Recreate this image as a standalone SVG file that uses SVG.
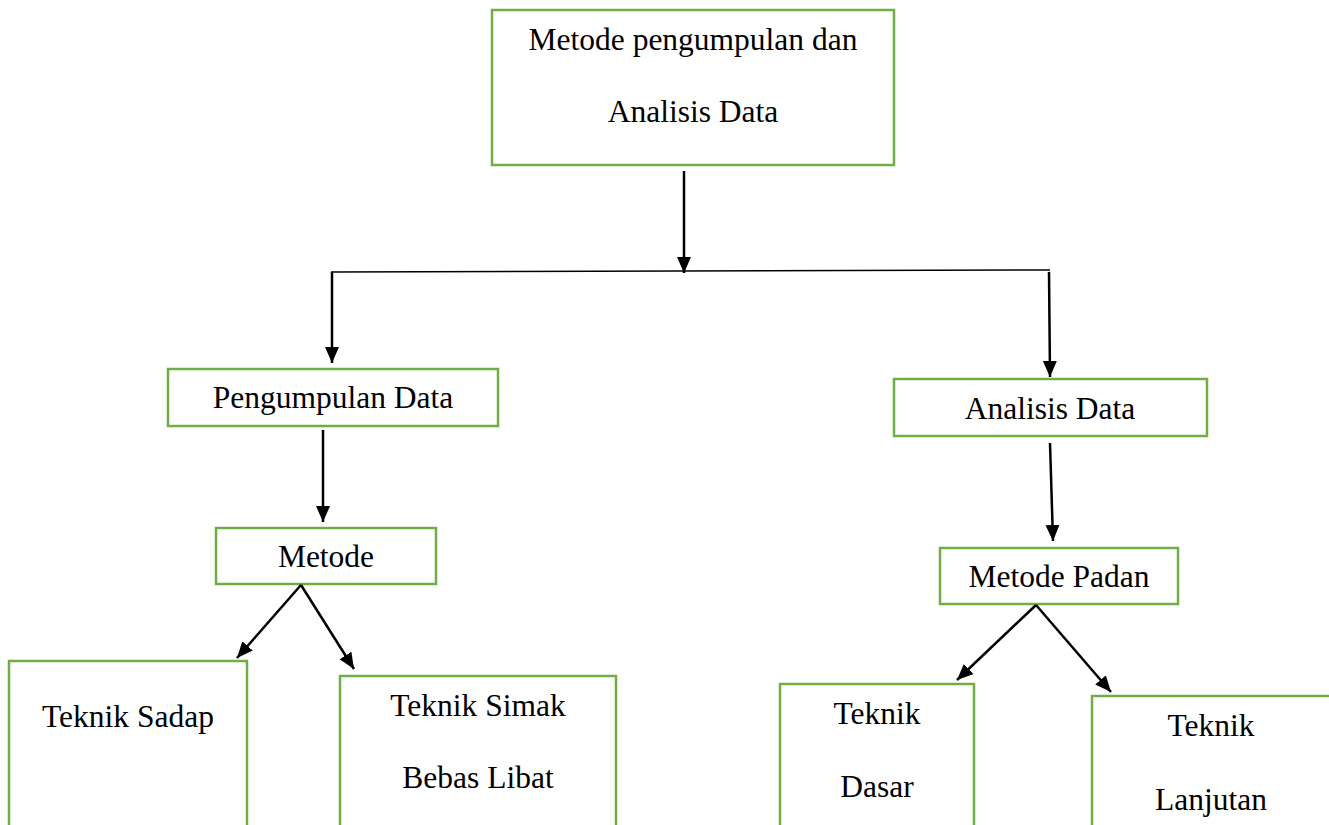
<svg xmlns="http://www.w3.org/2000/svg" width="1329" height="825" viewBox="0 0 1329 825">
<style>
.box{fill:#fff;stroke:#70AD47;stroke-width:2.5}
.t{font-family:'Liberation Serif','Times New Roman','DejaVu Serif',serif;font-size:31.5px;fill:#000;text-anchor:middle}
.ar{stroke:#000;stroke-width:2.5;fill:none;marker-end:url(#ah)}
.ln{stroke:#000;stroke-width:1.5;fill:none}
</style>
<defs>
<marker id="ah" markerUnits="userSpaceOnUse" markerWidth="16" markerHeight="18" refX="16" refY="7" orient="auto">
<path d="M0,0 L16,7 L0,14 Z" fill="#000"/>
</marker>
</defs>
<rect width="1329" height="825" fill="#fff"/>
<g id="n-top">
<rect class="box" x="492" y="10" width="402" height="155"/>
<text class="t" x="693" y="50" font-family="Liberation Serif, serif">Metode pengumpulan dan</text>
<text class="t" x="693" y="122" font-family="Liberation Serif, serif">Analisis Data</text>
</g>
<g id="n-pengumpulan">
<rect class="box" x="168" y="369" width="330" height="57"/>
<text class="t" x="333" y="408">Pengumpulan Data</text>
</g>
<g id="n-analisis">
<rect class="box" x="894" y="379" width="313" height="57"/>
<text class="t" x="1050" y="419">Analisis Data</text>
</g>
<g id="n-metode">
<rect class="box" x="216" y="528" width="220" height="56"/>
<text class="t" x="326" y="567">Metode</text>
</g>
<g id="n-metodepadan">
<rect class="box" x="940" y="548" width="238" height="56"/>
<text class="t" x="1059" y="587">Metode Padan</text>
</g>
<g id="n-sadap">
<rect class="box" x="9" y="661" width="238" height="180"/>
<text class="t" x="128" y="727">Teknik Sadap</text>
</g>
<g id="n-simak">
<rect class="box" x="340" y="676" width="276" height="170"/>
<text class="t" x="478" y="716">Teknik Simak</text>
<text class="t" x="478" y="788">Bebas Libat</text>
</g>
<g id="n-dasar">
<rect class="box" x="780" y="684" width="194" height="160"/>
<text class="t" x="877" y="724">Teknik</text>
<text class="t" x="877" y="797">Dasar</text>
</g>
<g id="n-lanjutan">
<rect class="box" x="1092" y="696" width="250" height="150"/>
<text class="t" x="1211" y="736">Teknik</text>
<text class="t" x="1211" y="810">Lanjutan</text>
</g>
<g id="connectors">
<line class="ar" x1="684" y1="171" x2="684" y2="273"/>
<line class="ln" x1="331" y1="272" x2="1050" y2="270"/>
<line class="ar" x1="332" y1="272" x2="332" y2="363"/>
<line class="ar" x1="1049" y1="272" x2="1050" y2="377"/>
<line class="ar" x1="323" y1="430" x2="323" y2="522"/>
<line class="ar" x1="1050" y1="443" x2="1053" y2="541"/>
<line class="ar" x1="301" y1="585" x2="237" y2="658"/>
<line class="ar" x1="301" y1="585" x2="354" y2="669"/>
<line class="ar" x1="1036" y1="605" x2="957" y2="680"/>
<line class="ar" x1="1036" y1="605" x2="1111" y2="692"/>
</g>
</svg>
